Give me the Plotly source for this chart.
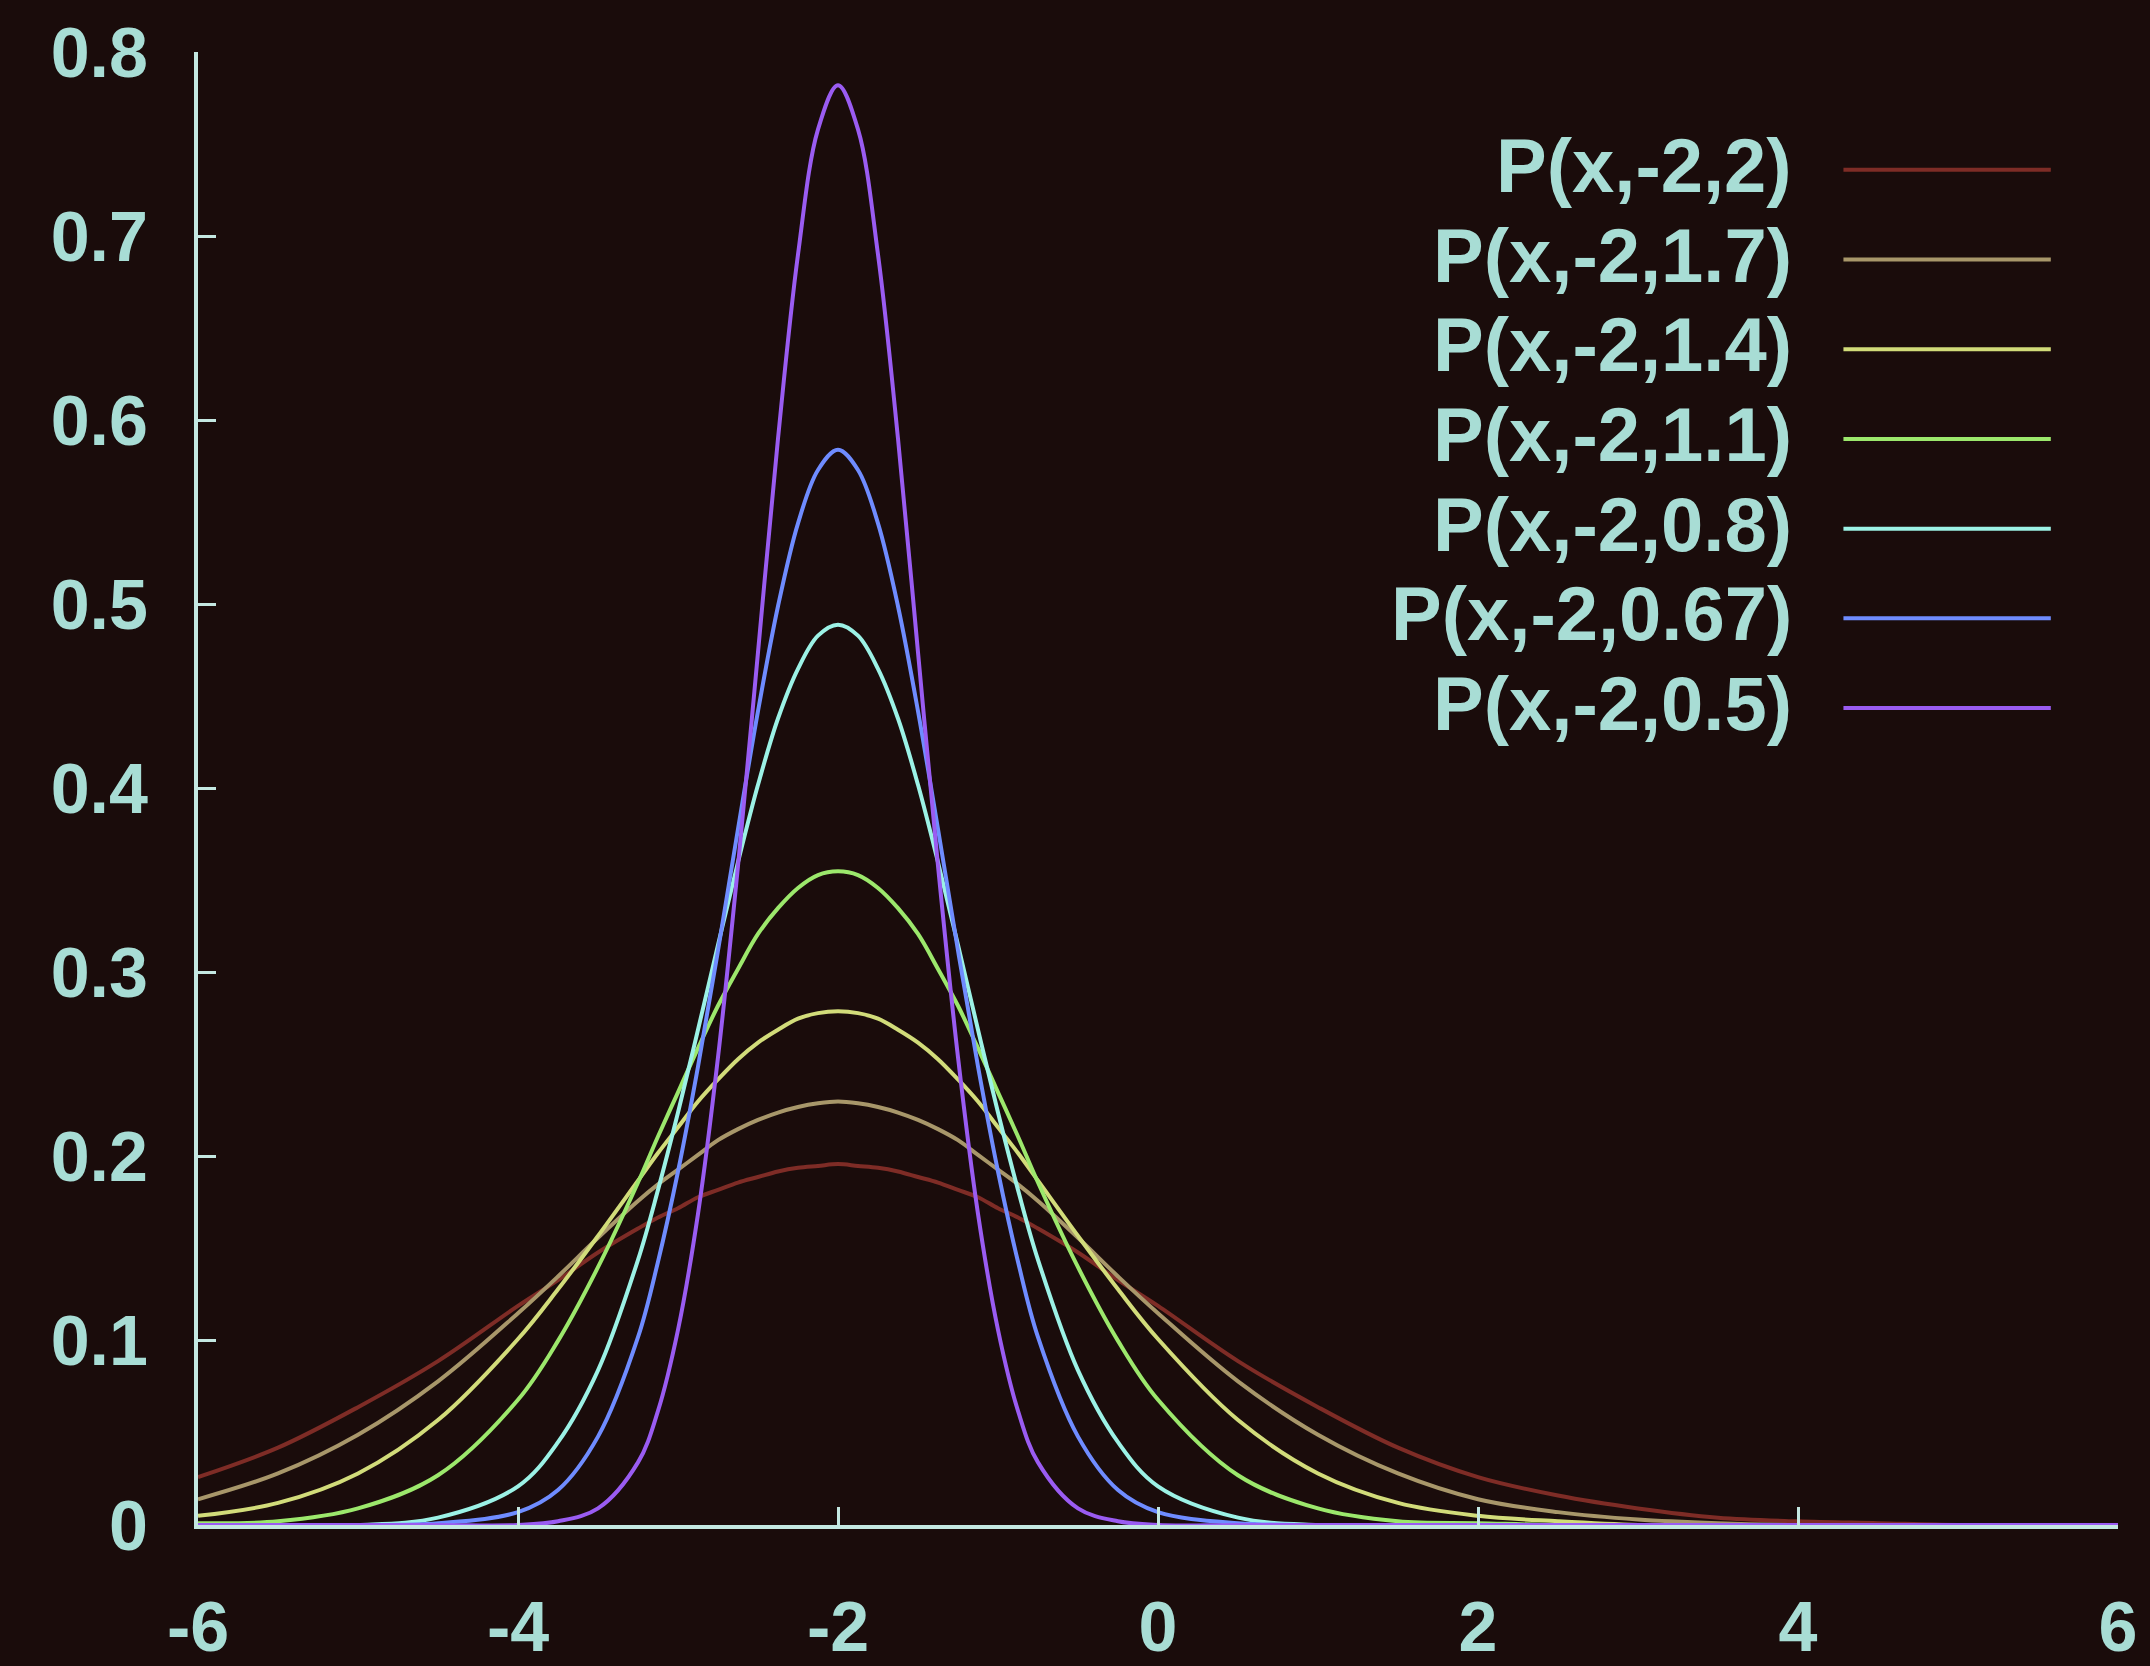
import plotly.graph_objects as go

# Sample positions along x (denser around the peaks)
XS = [-6, -5.5, -5, -4.5,
      -4, -3.75, -3.5, -3.25, -3.125, -3, -2.875, -2.75, -2.625, -2.5, -2.375,
      -2.25, -2.125, -2, -1.875, -1.75, -1.625, -1.5, -1.375, -1.25, -1.125,
      -1, -0.875, -0.75, -0.5, -0.25, 0,
      0.5, 1, 1.5, 2, 2.5, 3, 3.5, 4, 4.5, 5, 5.5, 6]

# Density values P(x, mu, sigma) for each curve
P_2_0 = [0.026, 0.042, 0.064, 0.089,
         0.119, 0.133, 0.148, 0.161, 0.167, 0.172, 0.178, 0.182, 0.186, 0.189,
         0.192, 0.194, 0.195, 0.196, 0.195, 0.194, 0.192, 0.189, 0.186, 0.182,
         0.178, 0.172, 0.167, 0.161, 0.148, 0.133, 0.119,
         0.089, 0.064, 0.042, 0.026, 0.016, 0.009, 0.004, 0.002, 0.001, 0.000,
         0.000, 0.000]
P_1_7 = [0.014, 0.028, 0.049, 0.078,
         0.115, 0.135, 0.156, 0.176, 0.185, 0.193, 0.201, 0.209, 0.215, 0.220,
         0.224, 0.227, 0.229, 0.230, 0.229, 0.227, 0.224, 0.220, 0.215, 0.209,
         0.201, 0.193, 0.185, 0.176, 0.156, 0.135, 0.115,
         0.078, 0.049, 0.028, 0.014, 0.007, 0.003, 0.001, 0.000, 0.000, 0.000,
         0.000, 0.000]
P_1_4 = [0.005, 0.012, 0.028, 0.057,
         0.101, 0.128, 0.157, 0.187, 0.202, 0.216, 0.230, 0.242, 0.253, 0.262,
         0.269, 0.275, 0.278, 0.279, 0.278, 0.275, 0.269, 0.262, 0.253, 0.242,
         0.230, 0.216, 0.202, 0.187, 0.157, 0.128, 0.101,
         0.057, 0.028, 0.012, 0.005, 0.002, 0.000, 0.000, 0.000, 0.000, 0.000,
         0.000, 0.000]
P_1_1 = [0.001, 0.002, 0.009, 0.027,
         0.068, 0.100, 0.140, 0.186, 0.211, 0.235, 0.259, 0.282, 0.302, 0.321,
         0.335, 0.346, 0.353, 0.355, 0.353, 0.346, 0.335, 0.321, 0.302, 0.282,
         0.259, 0.235, 0.211, 0.186, 0.140, 0.100, 0.068,
         0.027, 0.009, 0.002, 0.001, 0.000, 0.000, 0.000, 0.000, 0.000, 0.000,
         0.000, 0.000]
P_0_8 = [0.000, 0.000, 0.000, 0.004,
         0.021, 0.045, 0.084, 0.144, 0.182, 0.224, 0.269, 0.315, 0.360, 0.402,
         0.438, 0.465, 0.483, 0.489, 0.483, 0.465, 0.438, 0.402, 0.360, 0.315,
         0.269, 0.224, 0.182, 0.144, 0.084, 0.045, 0.021,
         0.004, 0.000, 0.000, 0.000, 0.000, 0.000, 0.000, 0.000, 0.000, 0.000,
         0.000, 0.000]
P_0_67 = [0.000, 0.000, 0.000, 0.001,
          0.007, 0.019, 0.048, 0.102, 0.143, 0.192, 0.249, 0.312, 0.378, 0.442,
          0.499, 0.544, 0.573, 0.584, 0.573, 0.544, 0.499, 0.442, 0.378, 0.312,
          0.249, 0.192, 0.143, 0.102, 0.048, 0.019, 0.007,
          0.001, 0.000, 0.000, 0.000, 0.000, 0.000, 0.000, 0.000, 0.000, 0.000,
          0.000, 0.000]
P_0_5 = [0.000, 0.000, 0.000, 0.000,
         0.000, 0.002, 0.009, 0.034, 0.062, 0.106, 0.169, 0.254, 0.358, 0.474,
         0.590, 0.690, 0.758, 0.782, 0.758, 0.690, 0.590, 0.474, 0.358, 0.254,
         0.169, 0.106, 0.062, 0.034, 0.009, 0.002, 0.000,
         0.000, 0.000, 0.000, 0.000, 0.000, 0.000, 0.000, 0.000, 0.000, 0.000,
         0.000, 0.000]

NAMES = ["P(x,-2,2)", "P(x,-2,1.7)", "P(x,-2,1.4)", "P(x,-2,1.1)",
         "P(x,-2,0.8)", "P(x,-2,0.67)", "P(x,-2,0.5)"]
SERIES = [P_2_0, P_1_7, P_1_4, P_1_1, P_0_8, P_0_67, P_0_5]
COLORS = ["#7e2c26", "#a8976a", "#d2dc7a", "#9ce86c", "#9cf2e6", "#6f8cff", "#9a5cf2"]

X_TICKS = [-6, -4, -2, 0, 2, 4, 6]
Y_TICKS = [0, 0.1, 0.2, 0.3, 0.4, 0.5, 0.6, 0.7, 0.8]

BG = "#1a0c0b"
FG = "#a8ddd5"
AXIS = "#c4e8e2"
FONT = "Liberation Sans, Arial, sans-serif"

fig = go.Figure()
for name, ys, col in zip(NAMES, SERIES, COLORS):
    fig.add_trace(go.Scatter(
        x=XS, y=ys, name=name, mode="lines",
        line=dict(color=col, width=4, shape="spline", smoothing=1.0),
        showlegend=False,
    ))

# gnuplot-style key: right-aligned labels with a line sample to their right
row0, row_step = 0.923, 0.0609
for i, (name, col) in enumerate(zip(NAMES, COLORS)):
    yy = row0 - i * row_step
    fig.add_annotation(
        x=0.831, y=yy, xref="paper", yref="paper", text=name,
        showarrow=False, xanchor="right", yanchor="middle",
        font=dict(family=FONT, size=76, color=FG, weight="bold"),
    )
    fig.add_shape(
        type="line", xref="paper", yref="paper",
        x0=0.857, x1=0.965, y0=yy - 0.003, y1=yy - 0.003,
        line=dict(color=col, width=4),
    )

fig.update_layout(
    width=2150, height=1666,
    paper_bgcolor=BG, plot_bgcolor=BG,
    margin=dict(l=198, r=32, t=52, b=141),
    font=dict(family=FONT, size=70, color=FG),
    xaxis=dict(
        range=[-6, 6], tickvals=X_TICKS, ticktext=[str(v) for v in X_TICKS],
        showgrid=False, zeroline=False, showline=True, linecolor=AXIS,
        linewidth=4, ticks="inside", ticklen=18, tickwidth=3, tickcolor=AXIS,
        ticklabelstandoff=38, automargin=False,
        tickfont=dict(family=FONT, size=70, color=FG, weight="bold"),
    ),
    yaxis=dict(
        range=[0, 0.8], tickvals=Y_TICKS,
        ticktext=["0" if v == 0 else f"{v:.1f}" for v in Y_TICKS],
        showgrid=False, zeroline=False, showline=True, linecolor=AXIS,
        linewidth=4, ticks="inside", ticklen=18, tickwidth=3, tickcolor=AXIS,
        ticklabelstandoff=32, automargin=False,
        tickfont=dict(family=FONT, size=70, color=FG, weight="bold"),
    ),
)

fig.write_html("out.html")
